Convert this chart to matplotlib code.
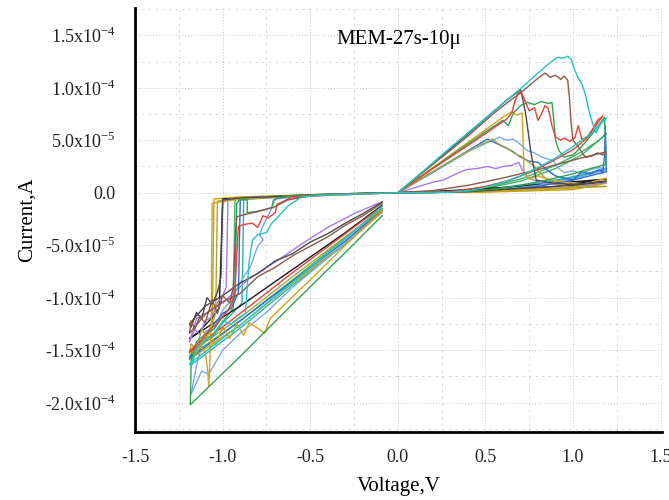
import numpy as np
import matplotlib
matplotlib.use("Agg")
import matplotlib.pyplot as plt  # noqa: E402
from matplotlib.ticker import FixedLocator, MultipleLocator  # noqa: E402

# I-V loops, (voltage V, current in units of 1e-5 A)
cyan = [(0, 0), (0.1, 1.4), (0.3, 4.3), (0.5, 7.1), (0.7, 9.9), (0.8, 11.4), (0.87, 12.4), (0.91, 12.9),
        (0.94, 12.8), (0.97, 13.0), (0.99, 12.7), (1.01, 11.7), (1.03, 10.9), (1.05, 10.4), (1.07, 9.4),
        (1.09, 7.9), (1.11, 6.7), (1.13, 5.7), (1.15, 6.3), (1.17, 6.9), (1.19, 7.1),
        (1.1, 5.6), (1.0, 4.4), (0.9, 3.3), (0.8, 2.4), (0.7, 1.6), (0.6, 1.0), (0.5, 0.5), (0.4, 0.2),
        (0.3, 0.05), (0.15, 0), (0, 0),
        (-0.2, -0.1), (-0.4, -0.2), (-0.55, -0.4), (-0.63, -1.3), (-0.69, -2.4), (-0.72, -2.9), (-0.75, -3.8),
        (-0.8, -4.0), (-0.83, -4.5), (-0.85, -6.7), (-0.86, -9.0), (-0.87, -11.5), (-0.9, -11.8), (-0.95, -12.5),
        (-1.0, -12.2), (-1.05, -13.6), (-1.1, -14.0), (-1.15, -14.8), (-1.18, -16.5), (-1.19, -16.3),
        (-0.9, -12.6), (-0.6, -8.5), (-0.3, -4.4), (-0.09, -1.3)]
brown = [(0, 0), (0.2, 2.7), (0.4, 5.4), (0.55, 7.6), (0.65, 8.9), (0.7, 9.5), (0.75, 10.2), (0.8, 10.9),
         (0.84, 11.4), (0.87, 11.0), (0.9, 11.2), (0.93, 10.8), (0.95, 11.1), (0.97, 10.7), (0.98, 9.0),
         (0.99, 6.5), (1.0, 5.0), (1.03, 4.4), (1.06, 3.6), (1.08, 3.4), (1.11, 3.5), (1.14, 3.8), (1.17, 3.6),
         (1.19, 3.9),
         (1.0, 3.1), (0.8, 2.2), (0.6, 1.4), (0.4, 0.7), (0.2, 0.2), (0, 0),
         (-0.3, -0.1), (-0.5, -0.3), (-0.63, -0.7), (-0.71, -1.4), (-0.8, -1.8), (-0.88, -2.1), (-0.92, -2.3),
         (-0.93, -5.0), (-0.94, -9.0), (-0.96, -10.5), (-1.0, -9.8), (-1.03, -11.5), (-1.06, -10.2),
         (-1.1, -12.4), (-1.13, -11.8), (-1.16, -13.0), (-1.18, -12.2), (-1.19, -13.4),
         (-1.1, -11.6), (-1.0, -10.4), (-0.9, -9.6), (-0.8, -8.0), (-0.7, -7.1), (-0.6, -6.0), (-0.5, -5.1),
         (-0.4, -4.2), (-0.3, -3.1), (-0.2, -2.2), (-0.09, -1.0)]
red = [(0, 0), (0.2, 2.3), (0.4, 4.5), (0.55, 6.2), (0.62, 7.0), (0.65, 7.6), (0.67, 8.8), (0.69, 9.6),
       (0.71, 9.4), (0.73, 8.6), (0.75, 7.8), (0.78, 8.1), (0.8, 6.9), (0.82, 7.5), (0.84, 8.3), (0.86, 8.0),
       (0.88, 6.4), (0.9, 5.3), (0.93, 5.0), (0.95, 5.2), (0.98, 4.9), (1.01, 5.2), (1.03, 6.4), (1.05, 5.1),
       (1.08, 5.3), (1.11, 6.0), (1.14, 6.9), (1.17, 7.3),
       (1.08, 5.2), (1.0, 4.1), (0.87, 2.9), (0.75, 1.9), (0.64, 1.2), (0.5, 0.6), (0.35, 0.2), (0.2, 0.0), (0, 0),
       (-0.3, -0.1), (-0.6, -0.4), (-0.65, -0.8), (-0.69, -1.1), (-0.7, -1.9), (-0.74, -2.4), (-0.77, -2.2),
       (-0.8, -3.3), (-0.83, -2.9), (-0.87, -3.0), (-0.91, -3.2), (-0.92, -6.0), (-0.93, -9.5), (-0.96, -11.0),
       (-1.0, -11.8), (-1.04, -12.6), (-1.08, -13.1), (-1.12, -14.0), (-1.16, -14.6), (-1.19, -15.2),
       (-0.9, -11.5), (-0.6, -7.6), (-0.3, -3.9), (-0.09, -1.3)]
green = [(0, 0), (0.3, 3.5), (0.5, 5.8), (0.6, 6.9), (0.63, 6.4), (0.66, 7.6), (0.7, 8.3), (0.74, 8.6),
         (0.78, 8.4), (0.82, 8.7), (0.86, 8.5), (0.88, 8.6), (0.89, 7.0), (0.9, 5.0), (0.92, 4.0), (0.95, 3.4),
         (1.0, 3.6), (1.05, 4.4), (1.1, 5.4), (1.15, 6.5), (1.18, 7.2), (1.185, 5.0), (1.19, 2.7),
         (1.1, 2.3), (1.0, 1.8), (0.85, 1.2), (0.7, 0.7), (0.55, 0.35), (0.4, 0.15), (0.2, 0.03), (0, 0),
         (-0.3, -0.1), (-0.6, -0.3), (-0.68, -0.5), (-0.71, -0.7), (-0.72, -1.4), (-0.76, -1.6), (-0.81, -1.8),
         (-0.86, -1.9), (-0.86, -0.7), (-0.9, -0.6), (-0.92, -1.0), (-0.925, -5.0), (-0.93, -10.0),
         (-0.97, -11.2), (-1.0, -11.8), (-1.05, -13.0), (-1.1, -13.5), (-1.15, -14.2), (-1.18, -16.0),
         (-1.185, -20.2),
         (-0.9, -15.6), (-0.6, -10.6), (-0.3, -5.7), (-0.09, -2.2)]
dgray = [(0, 0), (0.2, 2.8), (0.4, 5.6), (0.55, 7.8), (0.62, 8.8), (0.66, 9.3), (0.7, 9.8), (0.71, 9.2),
         (0.73, 7.5), (0.74, 6.3), (0.76, 3.8), (0.79, 1.2), (0.85, 1.0), (0.9, 0.9), (1.0, 0.8), (1.1, 0.9),
         (1.19, 1.1),
         (1.0, 0.7), (0.8, 0.5), (0.6, 0.3), (0.4, 0.1), (0, 0),
         (-0.3, -0.1), (-0.6, -0.3), (-0.9, -0.5), (-1.0, -0.7), (-1.005, -4.0), (-1.01, -8.0), (-1.03, -9.5),
         (-1.06, -10.6), (-1.09, -10.0), (-1.12, -12.0), (-1.15, -11.4), (-1.18, -12.8), (-1.19, -12.5),
         (-1.1, -10.8), (-1.0, -9.8), (-0.9, -8.6), (-0.8, -7.7), (-0.7, -6.5), (-0.6, -5.8), (-0.5, -4.7),
         (-0.4, -3.9), (-0.3, -2.9), (-0.2, -2.0), (-0.09, -0.9)]
gold = [(0, 0), (0.2, 2.4), (0.4, 4.8), (0.55, 6.6), (0.6, 7.2), (0.65, 7.7), (0.68, 7.4), (0.71, 7.6),
        (0.715, 5.0), (0.72, 2.0), (0.75, 1.3), (0.8, 1.6), (0.88, 1.2), (0.95, 1.0), (1.05, 0.8), (1.12, 0.9),
        (1.19, 1.4),
        (1.0, 0.5), (0.7, 0.3), (0.4, 0.1), (0, 0),
        (-0.5, -0.3), (-0.9, -0.6), (-1.06, -1.0), (-1.063, -6.0), (-1.065, -12.0), (-1.07, -14.5),
        (-1.075, -16.8), (-1.08, -18.5), (-1.085, -17.0), (-1.1, -15.2), (-1.13, -14.6), (-1.16, -15.5),
        (-1.19, -15.0),
        (-1.12, -14.2), (-1.08, -13.3), (-1.04, -14.5), (-1.0, -12.8), (-0.96, -13.9), (-0.92, -12.5),
        (-0.88, -13.6), (-0.85, -12.4), (-0.8, -12.9), (-0.76, -13.4), (-0.73, -12.0), (-0.5, -8.3),
        (-0.3, -5.0), (-0.09, -1.8)]
olive = [(0, 0), (0.15, 1.5), (0.3, 3.0), (0.45, 4.4), (0.54, 5.1), (0.58, 4.6), (0.62, 4.3), (0.66, 3.8),
         (0.7, 3.5), (0.74, 3.0), (0.78, 2.5), (0.82, 1.8), (0.86, 1.0), (0.95, 0.7), (1.05, 0.6), (1.19, 0.6),
         (0.8, 0.3), (0.4, 0.1), (0, 0),
         (-0.5, -0.2), (-0.9, -0.5), (-1.03, -0.8), (-1.035, -6.0), (-1.04, -11.5), (-1.06, -12.5),
         (-1.09, -13.8), (-1.12, -13.0), (-1.15, -15.0), (-1.18, -14.4), (-1.19, -15.3),
         (-0.9, -11.9), (-0.6, -8.0), (-0.3, -4.2), (-0.09, -1.6)]
blue = [(0, 0), (0.2, 2.0), (0.4, 4.0), (0.51, 5.1), (0.55, 4.8), (0.6, 4.4), (0.65, 4.0), (0.7, 3.4),
        (0.75, 3.0), (0.8, 2.9), (0.85, 2.2), (0.9, 1.6), (0.95, 1.4), (1.0, 1.2), (1.05, 2.0), (1.1, 1.8),
        (1.15, 2.2), (1.17, 1.9), (1.18, 3.5), (1.185, 6.4), (1.19, 2.0),
        (1.0, 1.2), (0.8, 0.6), (0.6, 0.3), (0.4, 0.1), (0, 0),
        (-0.5, -0.3), (-0.85, -0.6), (-0.9, -0.7), (-0.905, -5.0), (-0.91, -9.5), (-0.95, -11.0),
        (-1.0, -11.5), (-1.05, -12.5), (-1.1, -13.8), (-1.15, -14.5), (-1.19, -15.8),
        (-0.9, -12.2), (-0.6, -8.4), (-0.3, -4.6), (-0.09, -1.6)]
lblue = [(0, 0), (0.2, 1.9), (0.4, 3.9), (0.58, 5.3), (0.62, 5.0), (0.66, 5.1), (0.7, 4.6), (0.74, 4.0),
         (0.78, 3.8), (0.82, 3.4), (0.86, 3.2), (0.89, 3.0), (0.92, 2.3), (0.95, 1.9), (1.0, 2.1), (1.05, 1.8),
         (1.1, 2.2), (1.15, 2.4), (1.19, 2.2),
         (1.0, 1.3), (0.8, 0.7), (0.6, 0.3), (0.4, 0.1), (0, 0),
         (-0.4, -0.2), (-0.7, -0.6), (-0.72, -1.5), (-0.76, -2.8), (-0.79, -4.0), (-0.77, -4.5), (-0.8, -5.1),
         (-0.82, -6.0), (-0.84, -7.0), (-0.88, -8.0), (-0.92, -9.2), (-0.96, -10.4), (-1.0, -11.2),
         (-1.05, -13.0), (-1.1, -13.2), (-1.15, -16.5), (-1.18, -19.2),
         (-1.12, -17.0), (-1.08, -17.3), (-1.0, -15.0), (-0.9, -13.4), (-0.75, -11.4), (-0.6, -9.0),
         (-0.4, -6.2), (-0.2, -3.4), (-0.09, -1.9)]
purple = [(0, 0), (0.1, 0.5), (0.2, 1.0), (0.26, 1.2), (0.32, 1.7), (0.39, 2.2), (0.45, 2.3), (0.51, 2.5),
          (0.56, 2.3), (0.6, 2.5), (0.65, 2.6), (0.69, 2.9), (0.71, 2.2), (0.74, 1.5), (0.8, 1.0), (0.9, 0.8),
          (1.0, 0.6), (1.1, 0.8), (1.19, 1.0),
          (1.0, 0.5), (0.7, 0.3), (0.4, 0.1), (0, 0),
          (-0.5, -0.3), (-0.9, -0.5), (-0.97, -0.6), (-0.975, -5.0), (-0.98, -9.0), (-1.0, -9.8), (-1.03, -10.5),
          (-1.06, -11.8), (-1.1, -12.2), (-1.13, -13.5), (-1.16, -13.0), (-1.19, -14.2),
          (-1.15, -12.0), (-1.0, -10.5), (-0.85, -8.2), (-0.7, -6.6), (-0.55, -4.9), (-0.4, -3.3),
          (-0.25, -2.0), (-0.09, -0.85)]
black = [(0, 0), (0.3, 0.2), (0.6, 0.5), (0.9, 0.9), (1.19, 1.3), (0.9, 0.6), (0.6, 0.3), (0.3, 0.1), (0, 0),
         (-0.5, -0.2), (-1.0, -0.6), (-1.01, -6.0), (-1.02, -11.0), (-1.06, -11.9), (-1.1, -12.6),
         (-1.14, -13.3), (-1.19, -13.9),
         (-0.9, -10.8), (-0.6, -7.3), (-0.3, -3.8), (-0.09, -1.2)]
green2 = [(0, 0), (0.2, 0.0), (0.3, 0.1), (0.5, 0.5), (0.7, 1.3), (0.9, 2.6), (1.05, 3.9), (1.15, 5.0),
          (1.19, 5.6), (1.05, 3.6), (0.9, 2.3), (0.7, 1.1), (0.5, 0.4), (0.3, 0.05), (0, 0),
          (-0.5, -0.2), (-0.9, -0.5), (-0.93, -0.7), (-0.935, -6.0), (-0.94, -11.0), (-1.0, -12.3),
          (-1.06, -13.6), (-1.12, -14.1), (-1.19, -15.6),
          (-0.9, -12.2), (-0.6, -8.3), (-0.3, -4.3), (-0.09, -1.5)]
gold2 = [(0, 0), (0.4, 0.1), (0.8, 0.3), (1.0, 0.5), (1.19, 0.9), (1.0, 0.3), (0.5, 0.05), (0, 0),
         (-0.5, -0.2), (-0.9, -0.4), (-1.05, -0.6), (-1.055, -7.0), (-1.06, -12.5), (-1.1, -13.8),
         (-1.15, -14.6), (-1.19, -15.9),
         (-0.9, -12.6), (-0.6, -8.6), (-0.3, -4.8), (-0.09, -1.7)]
teal = [(0, 0), (0.3, 0.1), (0.6, 0.5), (0.9, 1.2), (1.05, 1.7), (1.19, 2.3), (1.0, 1.4), (0.7, 0.6),
        (0.4, 0.15), (0, 0),
        (-0.5, -0.2), (-0.8, -0.4), (-0.88, -0.6), (-0.885, -6.0), (-0.89, -10.5), (-0.95, -11.6),
        (-1.0, -12.4), (-1.05, -13.6), (-1.1, -14.2), (-1.15, -15.0), (-1.18, -16.4),
        (-0.9, -12.9), (-0.6, -8.8), (-0.3, -4.9), (-0.09, -1.7)]

curves = [
    (teal, "#2ab0b8"), (gold2, "#c9a100"), (green2, "#3bb36a"), (black, "#1a1a1a"),
    (purple, "#a77ae8"), (lblue, "#7aa8e6"), (blue, "#2d6bd6"), (olive, "#a9a83a"),
    (gold, "#d4a21c"), (dgray, "#4a4a4a"), (green, "#2fa352"), (red, "#e8413a"),
    (brown, "#8b5a4b"), (cyan, "#1ec6c6"),
]

yticks = [1.5e-4, 1.0e-4, 5.0e-5, 0.0, -5.0e-5, -1.0e-4, -1.5e-4, -2.0e-4]
ylabels = [r"1.5x10$^{\mathregular{-4}}$", r"1.0x10$^{\mathregular{-4}}$", r"5.0x10$^{\mathregular{-5}}$", "0.0",
           r"-5.0x10$^{\mathregular{-5}}$", r"-1.0x10$^{\mathregular{-4}}$", r"-1.5x10$^{\mathregular{-4}}$",
           r"-2.0x10$^{\mathregular{-4}}$"]
xticks = [-1.5, -1.0, -0.5, 0.0, 0.5, 1.0, 1.5]
xlabels = ["-1.5", "-1.0", "-0.5", "0.0", "0.5", "1.0", "1.5"]

plt.rcParams["font.family"] = ["Liberation Serif", "DejaVu Serif"]
plt.rcParams["mathtext.fontset"] = "custom"
plt.rcParams["mathtext.rm"] = "Liberation Serif"

fig = plt.figure(figsize=(6.69, 5.0), dpi=100)
ax = fig.add_axes([0.202, 0.136, 0.788, 0.848])

for pts, col in curves:
    v, i = zip(*pts)
    ax.plot(v, np.array(i) * 1e-5, color=col, lw=1.0)

ax.set_xlim(-1.5, 1.51)
ax.set_ylim(-2.28e-4, 1.76e-4)
ax.yaxis.set_major_locator(FixedLocator(yticks))
ax.set_yticklabels(ylabels)
ax.xaxis.set_major_locator(FixedLocator(xticks))
ax.set_xticklabels(xlabels)
ax.xaxis.set_minor_locator(MultipleLocator(0.25))
ax.yaxis.set_minor_locator(MultipleLocator(2.5e-5))

ax.grid(which="major", ls=(0, (1, 2)), color="#c4c4c4", lw=0.7)
ax.grid(which="minor", ls=(0, (3, 5)), color="#d0d0d0", lw=0.6)
ax.set_axisbelow(True)
ax.tick_params(which="both", length=0, labelsize=13, colors="#222222")
ax.tick_params(axis="y", pad=14)
ax.tick_params(axis="x", pad=12)

for s in ["top", "right"]:
    ax.spines[s].set_visible(False)
for s in ["left", "bottom"]:
    ax.spines[s].set_linewidth(2.0)

ax.set_xlabel("Voltage,V", fontsize=15, labelpad=8)
ax.set_ylabel("Current,A", fontsize=15, labelpad=6)
ax.text(-0.35, 1.46e-4, "MEM-27s-10\u03bc", fontsize=15, va="center", ha="left")

fig.savefig("out.png", dpi=100)
